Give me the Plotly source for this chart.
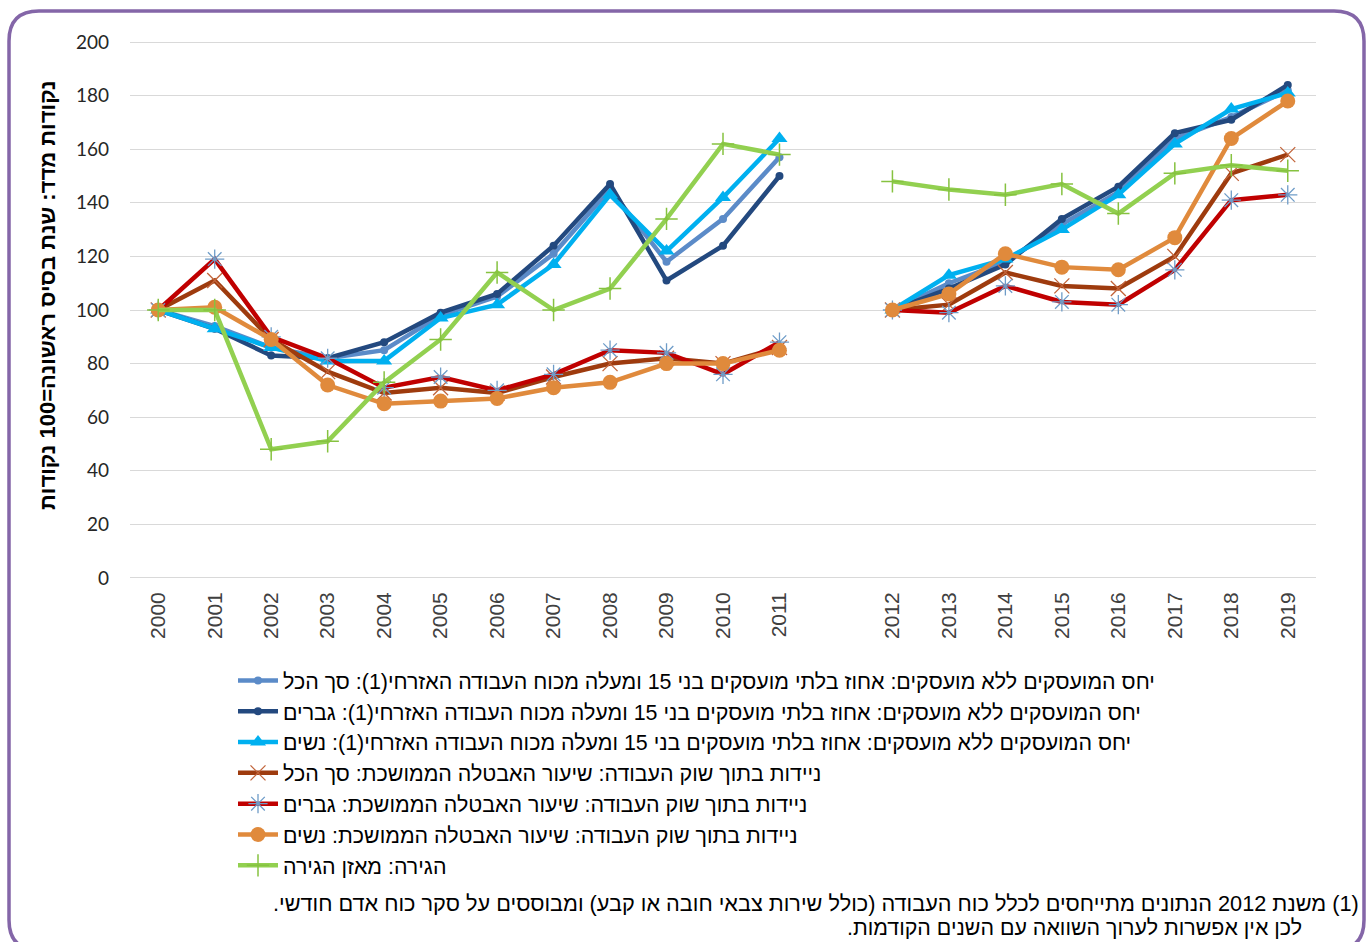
import plotly.graph_objects as go

# ---------------- data ----------------
years_a = ["2000", "2001", "2002", "2003", "2004", "2005", "2006", "2007", "2008", "2009", "2010", "2011"]
years_b = ["2012", "2013", "2014", "2015", "2016", "2017", "2018", "2019"]
gap = " "

names = [
    "יחס המועסקים ללא מועסקים: אחוז בלתי מועסקים בני 15 ומעלה מכוח העבודה האזרחי(1): סך הכל",
    "יחס המועסקים ללא מועסקים: אחוז בלתי מועסקים בני 15 ומעלה מכוח העבודה האזרחי(1): גברים",
    "יחס המועסקים ללא מועסקים: אחוז בלתי מועסקים בני 15 ומעלה מכוח העבודה האזרחי(1): נשים",
    "ניידות בתוך שוק העבודה: שיעור האבטלה הממושכת: סך הכל",
    "ניידות בתוך שוק העבודה: שיעור האבטלה הממושכת: גברים",
    "ניידות בתוך שוק העבודה: שיעור האבטלה הממושכת: נשים",
    "הגירה: מאזן הגירה",
]

nonemp_total_a = [100, 94, 86, 82, 85, 98, 105, 121, 145, 118, 134, 157]
nonemp_total_b = [100, 110, 118, 132, 144, 164, 172, 182]
nonemp_men_a = [100, 93, 83, 82, 88, 99, 106, 124, 147, 111, 124, 150]
nonemp_men_b = [100, 108, 117, 134, 146, 166, 171, 184]
nonemp_women_a = [100, 93, 86, 81, 81, 97, 102, 117, 143, 122, 142, 164]
nonemp_women_b = [100, 113, 119, 130, 143, 162, 175, 181]
ltu_total_a = [100, 111, 89, 77, 69, 71, 69, 75, 80, 82, 80, 86]
ltu_total_b = [100, 102, 114, 109, 108, 120, 151, 158]
ltu_men_a = [100, 119, 90, 82, 71, 75, 70, 76, 85, 84, 76, 88]
ltu_men_b = [100, 99, 109, 103, 102, 115, 141, 143]
ltu_women_a = [100, 101, 89, 72, 65, 66, 67, 71, 73, 80, 80, 85]
ltu_women_b = [100, 106, 121, 116, 115, 127, 164, 178]
migration_a = [100, 100, 48, 51, 73, 89, 114, 100, 108, 134, 162, 158]
migration_b = [148, 145, 143, 147, 136, 151, 154, 152]

y_ticks = [0, 20, 40, 60, 80, 100, 120, 140, 160, 180, 200]
y_title = "נקודות מדד: שנת בסיס ראשונה=100 נקודות"
foot1 = "(1) משנת 2012 הנתונים מתייחסים לכלל כוח העבודה (כולל שירות צבאי חובה או קבע) ומבוססים על סקר כוח אדם חודשי."
foot2 = "לכן אין אפשרות לערוך השוואה עם השנים הקודמות."

series_a = [nonemp_total_a, nonemp_men_a, nonemp_women_a, ltu_total_a, ltu_men_a, ltu_women_a, migration_a]
series_b = [nonemp_total_b, nonemp_men_b, nonemp_women_b, ltu_total_b, ltu_men_b, ltu_women_b, migration_b]

# ---------------- styles ----------------
colors = ["#5B8BC8", "#23497F", "#00B0F0", "#9E3B0E", "#C00000", "#E08A3C", "#92D050"]
symbols = ["circle", "circle", "triangle-up", "x-thin-open", "asterisk-open", "circle", "cross-thin-open"]
msizes = [8, 8, 14, 15, 16, 15, 16]
mcolors = [colors[0], colors[1], colors[2], "#C2643A", "#6E9CC8", colors[5], "#86C240"]
mline_widths = [0, 0, 0, 1.3, 1.3, 0, 1.5]


def rtl(s):
    return "\u202B" + s + "\u202C"


fig = go.Figure()
x_all = years_a + [gap] + years_b
for i in range(len(names)):
    fig.add_trace(go.Scatter(
        x=x_all,
        y=series_a[i] + [None] + series_b[i],
        name=rtl(names[i]),
        legendgroup="g%d" % i,
        mode="lines+markers",
        connectgaps=False,
        line=dict(color=colors[i], width=4.5),
        marker=dict(symbol=symbols[i], size=msizes[i], color=mcolors[i],
                    line=dict(color=mcolors[i], width=mline_widths[i])),
        hoverinfo="x+y",
    ))

W, H = 1371, 942
L, R, T, B = 130, 55, 41, 363
pw, ph = W - L - R, H - T - B


def px(xp):
    return (xp - L) / pw


def py(yp):
    return (H - B - yp) / ph


# rounded border path in paper coords
x0, x1, y0, y1, r = 9, 1364, 11, 950, 30
path = (
    f"M {px(x0 + r)},{py(y0)} L {px(x1 - r)},{py(y0)} Q {px(x1)},{py(y0)} {px(x1)},{py(y0 + r)} "
    f"L {px(x1)},{py(y1 - r)} Q {px(x1)},{py(y1)} {px(x1 - r)},{py(y1)} "
    f"L {px(x0 + r)},{py(y1)} Q {px(x0)},{py(y1)} {px(x0)},{py(y1 - r)} "
    f"L {px(x0)},{py(y0 + r)} Q {px(x0)},{py(y0)} {px(x0 + r)},{py(y0)} Z"
)

font_he = "Liberation Sans, Arial, sans-serif"

fig.update_layout(
    width=W, height=H,
    margin=dict(l=L, r=R, t=T, b=B, autoexpand=False),
    paper_bgcolor="white", plot_bgcolor="white",
    showlegend=True,
    legend=dict(
        x=px(233), y=py(660), xanchor="left", yanchor="top",
        font=dict(family=font_he, size=21.4, color="#000000"),
        tracegroupgap=0, bgcolor="rgba(0,0,0,0)", itemwidth=40,
    ),
    xaxis=dict(
        type="category", categoryorder="array", categoryarray=x_all,
        range=[-0.5, len(x_all) - 0.5],
        tickangle=-90, showgrid=False, zeroline=False, showline=False,
        ticks="", ticklabelstandoff=8,
        tickfont=dict(family=font_he, size=21, color="#404040"),
    ),
    yaxis=dict(
        range=[-0.4, 200.4], tickvals=y_ticks, showgrid=True, gridcolor="#D9D9D9", gridwidth=1,
        zeroline=False, showline=False, ticks="", ticklabelstandoff=20,
        tickfont=dict(family="Lato, Carlito, sans-serif", size=19, color="#262626"),
    ),
    shapes=[dict(type="path", xref="paper", yref="paper", path=path,
                 line=dict(color="#8466A8", width=3.5), fillcolor="rgba(0,0,0,0)", layer="above")],
    annotations=[
        dict(text="<b>" + rtl(y_title) + "</b>", textangle=-90, xref="paper", yref="paper",
             x=px(47), y=py(295), xanchor="center", yanchor="middle", showarrow=False,
             font=dict(family=font_he, size=22, color="#000000")),
        dict(text=rtl(foot1), xref="paper", yref="paper", x=px(1361), y=py(903),
             xanchor="right", yanchor="middle", showarrow=False,
             font=dict(family=font_he, size=21.7, color="#000000")),
        dict(text=rtl(foot2), xref="paper", yref="paper", x=px(1304), y=py(928),
             xanchor="right", yanchor="middle", showarrow=False,
             font=dict(family=font_he, size=21.4, color="#000000")),
    ],
)

fig.write_html("out.html", config={"displayModeBar": False},
               post_script="document.body.style.margin='0';document.body.style.overflow='hidden';")
